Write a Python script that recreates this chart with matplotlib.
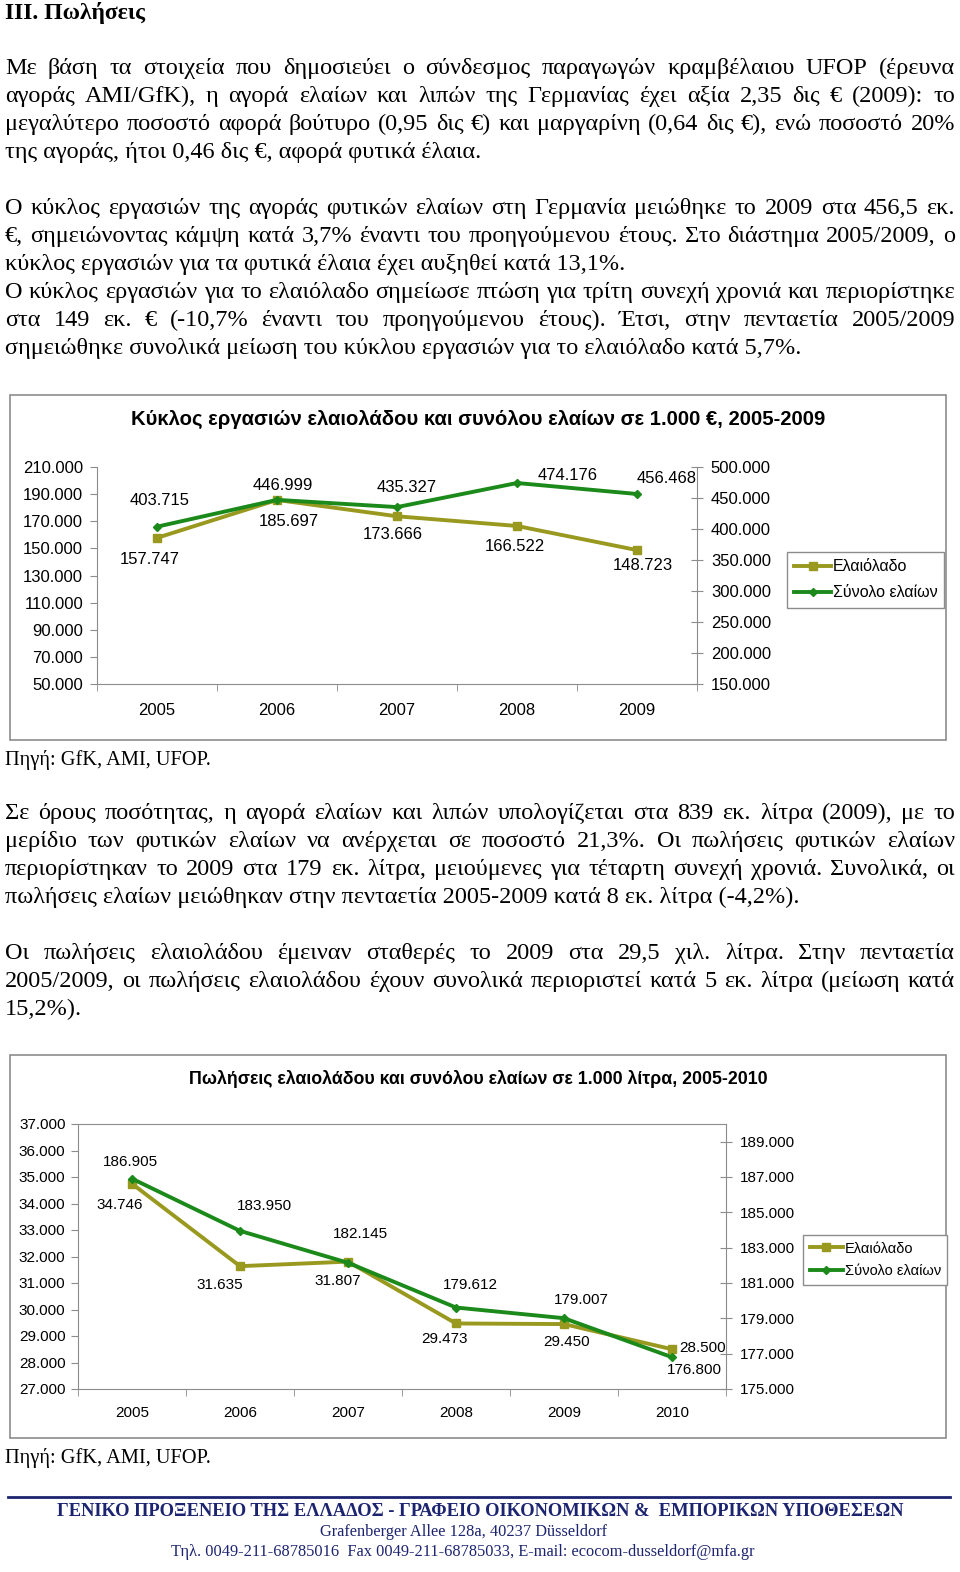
"""
Page III (Πωλήσεις): two twin-axis line charts between justified Greek text.
"""
import numpy as np
import matplotlib
matplotlib.use('Agg')
import matplotlib.pyplot as plt
from matplotlib.lines import Line2D
from matplotlib.patches import Rectangle
from matplotlib.font_manager import FontProperties
from matplotlib.ticker import FuncFormatter

# ---- data -------------------------------------------------------------
years_turnover = ['2005', '2006', '2007', '2008', '2009']
oil_turnover = [157747, 185697, 173666, 166522, 148723]      # left axis, 1.000 €
total_turnover = [403715, 446999, 435327, 474176, 456468]    # right axis, 1.000 €

years_sales = ['2005', '2006', '2007', '2008', '2009', '2010']
oil_sales = [34746, 31635, 31807, 29473, 29450, 28500]        # left axis, 1.000 l
total_sales = [186905, 183950, 182145, 179612, 179007, 176800]  # right axis, 1.000 l

series_names = ['Ελαιόλαδο', 'Σύνολο ελαίων']

para1 = [
    "Με βάση τα στοιχεία που δημοσιεύει ο σύνδεσμος παραγωγών κραμβέλαιου UFOP (έρευνα",
    "αγοράς AMI/GfK), η αγορά ελαίων και λιπών της Γερμανίας έχει αξία 2,35 δις € (2009): το",
    "μεγαλύτερο ποσοστό αφορά βούτυρο (0,95 δις €) και μαργαρίνη (0,64 δις €), ενώ ποσοστό 20%",
    "της αγοράς, ήτοι 0,46 δις €, αφορά φυτικά έλαια.",
]
para2 = [
    "Ο κύκλος εργασιών της αγοράς φυτικών ελαίων στη Γερμανία μειώθηκε το 2009 στα  456,5 εκ.",
    "€, σημειώνοντας κάμψη κατά 3,7% έναντι του προηγούμενου έτους. Στο διάστημα 2005/2009, ο",
    "κύκλος εργασιών για τα φυτικά έλαια έχει αυξηθεί κατά 13,1%.",
    "Ο κύκλος εργασιών για το ελαιόλαδο σημείωσε πτώση για τρίτη συνεχή χρονιά και περιορίστηκε",
    "στα 149 εκ. € (-10,7% έναντι του προηγούμενου έτους). Έτσι, στην πενταετία 2005/2009",
    "σημειώθηκε συνολικά μείωση του κύκλου εργασιών για το ελαιόλαδο κατά 5,7%.",
]
para3 = [
    "Σε όρους ποσότητας, η αγορά ελαίων και λιπών υπολογίζεται στα 839 εκ. λίτρα (2009), με το",
    "μερίδιο των φυτικών ελαίων να ανέρχεται σε ποσοστό 21,3%. Οι πωλήσεις φυτικών ελαίων",
    "περιορίστηκαν το 2009 στα 179 εκ. λίτρα, μειούμενες για τέταρτη συνεχή χρονιά. Συνολικά, οι",
    "πωλήσεις ελαίων μειώθηκαν στην πενταετία 2005-2009 κατά 8 εκ. λίτρα (-4,2%).",
]
para4 = [
    "Οι πωλήσεις ελαιολάδου έμειναν σταθερές το 2009 στα 29,5 χιλ. λίτρα. Στην πενταετία",
    "2005/2009, οι πωλήσεις ελαιολάδου έχουν συνολικά περιοριστεί κατά 5 εκ. λίτρα (μείωση κατά",
    "15,2%).",
]
source_note = "Πηγή: GfK, AMI, UFOP."

# ---- page setup -------------------------------------------------------
W, H = 960, 1572
fig = plt.figure(figsize=(W / 100, H / 100), dpi=100)
fig.patch.set_facecolor('white')
renderer = fig.canvas.get_renderer()

OLIVE = '#999920'
GREEN = '#1b8a1b'
GRAY = '#8c8c8c'
NAVY = '#1c2470'

def fx(x):
    return x / W

def fy(y):
    return 1 - y / H

body = FontProperties(family='Liberation Serif', size=17.5)
note = FontProperties(family='Liberation Serif', size=14.7)

def width_of(s, prop):
    w, h, d = renderer.get_text_width_height_descent(s, prop, ismath=False)
    return w

def put_line(s, y, justify, prop=body, left=5, right=955):
    base = y + 6
    if not justify:
        fig.text(fx(left), fy(base), s, fontproperties=prop, va='baseline', ha='left')
        return
    words = s.split()
    widths = [width_of(wd, prop) for wd in words]
    gap = (right - left - sum(widths)) / (len(words) - 1)
    x = left
    for wd, w in zip(words, widths):
        fig.text(fx(x), fy(base), wd, fontproperties=prop, va='baseline', ha='left')
        x += w + gap

def put_paragraph(lines, y0, last_lines=(), step=28):
    for i, s in enumerate(lines):
        put_line(s, y0 + i * step, justify=(i not in last_lines))

fig.text(fx(5), fy(19), "III. Πωλήσεις", family='Liberation Serif', size=17,
         weight='bold', va='baseline')
put_paragraph(para1, 68, last_lines=(3,))
put_paragraph(para2, 208, last_lines=(2, 5))
put_line(source_note, 759, False, prop=note)
put_paragraph(para3, 813, last_lines=(3,))
put_paragraph(para4, 953, last_lines=(2,))
put_line(source_note, 1457, False, prop=note)

# ---- charts -----------------------------------------------------------
def thousands(v, pos=None):
    return f"{int(round(v)):,}".replace(',', '.')

def draw_chart(box, plot, title, title_fs, years, left_vals, right_vals,
               left_ticks, right_lim, right_ticks, offs_left, offs_right,
               fs, legend_at, legend_fs, legend_spacing, top_line=False, xpad=12, ypad=6):
    fig.patches.append(Rectangle((fx(box[0]), fy(box[3])), (box[2] - box[0]) / W,
                                 (box[3] - box[1]) / H, transform=fig.transFigure,
                                 fill=False, edgecolor=GRAY, lw=1.2))
    fig.text(fx((box[0] + box[2]) / 2), fy(box[1] + 24), title, family='Liberation Sans',
             weight='bold', size=title_fs, ha='center', va='center')

    l, t, r, b = plot
    ax = fig.add_axes([fx(l), fy(b), (r - l) / W, (b - t) / H])
    ax2 = ax.twinx()
    x = np.arange(len(years))

    ax.plot(x, left_vals, color=OLIVE, lw=2.8, marker='s', ms=5.5)
    ax2.plot(x, right_vals, color=GREEN, lw=2.8, marker='D', ms=4.5)

    ax.set_xlim(-0.5, len(years) - 0.5)
    ax.set_ylim(left_ticks[0], left_ticks[-1])
    ax.set_yticks(left_ticks)
    ax2.set_ylim(*right_lim)
    ax2.set_yticks(right_ticks)
    ax.yaxis.set_major_formatter(FuncFormatter(thousands))
    ax2.yaxis.set_major_formatter(FuncFormatter(thousands))

    ax.set_xticks(x, years)
    ax.set_xticks(np.arange(-0.5, len(years)), minor=True)
    ax.tick_params(axis='x', which='major', length=0, pad=xpad, labelsize=fs)
    ax.tick_params(axis='x', which='minor', length=5, direction='out', color=GRAY)
    ax.tick_params(axis='y', length=5, direction='out', color=GRAY, pad=ypad, labelsize=fs)
    ax2.tick_params(axis='y', length=8, direction='inout', color=GRAY, pad=6, labelsize=fs)

    for sp in ax.spines.values():
        sp.set_color(GRAY)
    for name in ('left', 'bottom', 'top'):
        ax2.spines[name].set_visible(False)
    ax.spines['right'].set_visible(False)
    ax.spines['top'].set_visible(top_line)
    ax2.spines['right'].set_color(GRAY)

    for t_ in ax.get_xticklabels() + ax.get_yticklabels() + ax2.get_yticklabels():
        t_.set_family('Liberation Sans')

    for xi, v, (dx, dy) in zip(x, left_vals, offs_left):
        ax.annotate(thousands(v), (xi, v), xytext=(dx * 0.72, -dy * 0.72),
                    textcoords='offset points', ha='center', va='center',
                    family='Liberation Sans', size=fs)
    for xi, v, (dx, dy) in zip(x, right_vals, offs_right):
        ax2.annotate(thousands(v), (xi, v), xytext=(dx * 0.72, -dy * 0.72),
                     textcoords='offset points', ha='center', va='center',
                     family='Liberation Sans', size=fs)

    handles = [Line2D([], [], color=OLIVE, lw=2.8, marker='s', ms=5.5),
               Line2D([], [], color=GREEN, lw=2.8, marker='D', ms=4.5)]
    fig.legend(handles, series_names, loc='upper left',
               bbox_to_anchor=(fx(legend_at[0]), fy(legend_at[1])),
               frameon=True, fancybox=False, edgecolor=GRAY, framealpha=1,
               borderaxespad=0, borderpad=0.45, handlelength=2.3, handletextpad=0.1,
               labelspacing=legend_spacing,
               prop=FontProperties(family='Liberation Sans', size=legend_fs))
    return ax, ax2

# label offsets in pixels (dx right, dy down) from each point
offs_turn_oil = [(-7, 22), (12, 22), (-4, 18), (-2, 21), (6, 15)]
offs_turn_tot = [(3, -26), (6, -14), (10, -20), (51, -8), (30, -15)]
draw_chart((10, 395, 946, 740), (97, 467, 697, 684),
           "Κύκλος εργασιών ελαιολάδου και συνόλου ελαίων σε 1.000 €, 2005-2009", 14.6,
           years_turnover, oil_turnover, total_turnover,
           np.arange(50000, 210001, 20000), (150000, 500000), np.arange(150000, 500001, 50000),
           offs_turn_oil, offs_turn_tot, 12, (787, 552), 11.5, 0.7,
           top_line=False, xpad=14, ypad=5)

offs_sales_oil = [(-12, 21), (-20, 19), (-10, 19), (-12, 16), (3, 18), (31, -1)]
offs_sales_tot = [(-2, -17), (24, -25), (12, -29), (14, -23), (17, -18), (22, 13)]
draw_chart((10, 1055, 946, 1438), (78, 1124, 726, 1389),
           "Πωλήσεις ελαιολάδου και συνόλου ελαίων σε 1.000 λίτρα, 2005-2010", 12.8,
           years_sales, oil_sales, total_sales,
           np.arange(27000, 37001, 1000), (175000, 190000), np.arange(175000, 189001, 2000),
           offs_sales_oil, offs_sales_tot, 11, (803, 1235), 10.5, 0.6,
           top_line=True, xpad=12, ypad=4)

# ---- footer -----------------------------------------------------------
fig.add_artist(Line2D([fx(8), fx(950)], [fy(1497), fy(1497)], transform=fig.transFigure,
                      color=NAVY, lw=2))
fig.text(fx(480), fy(1512), "ΓΕΝΙΚΟ ΠΡΟΞΕΝΕΙΟ ΤΗΣ ΕΛΛΑΔΟΣ - ΓΡΑΦΕΙΟ ΟΙΚΟΝΟΜΙΚΩΝ &  ΕΜΠΟΡΙΚΩΝ ΥΠΟΘΕΣΕΩΝ",
         family='Liberation Serif', weight='bold', size=13.3, color=NAVY, ha='center', va='center')
fig.text(fx(463), fy(1532), "Grafenberger Allee 128a, 40237 Düsseldorf",
         family='Liberation Serif', size=11.8, color=NAVY, ha='center', va='center')
fig.text(fx(463), fy(1552), "Τηλ. 0049-211-68785016  Fax 0049-211-68785033, E-mail: ecocom-dusseldorf@mfa.gr",
         family='Liberation Serif', size=11.8, color=NAVY, ha='center', va='center')

fig.savefig('out.png', dpi=100)
